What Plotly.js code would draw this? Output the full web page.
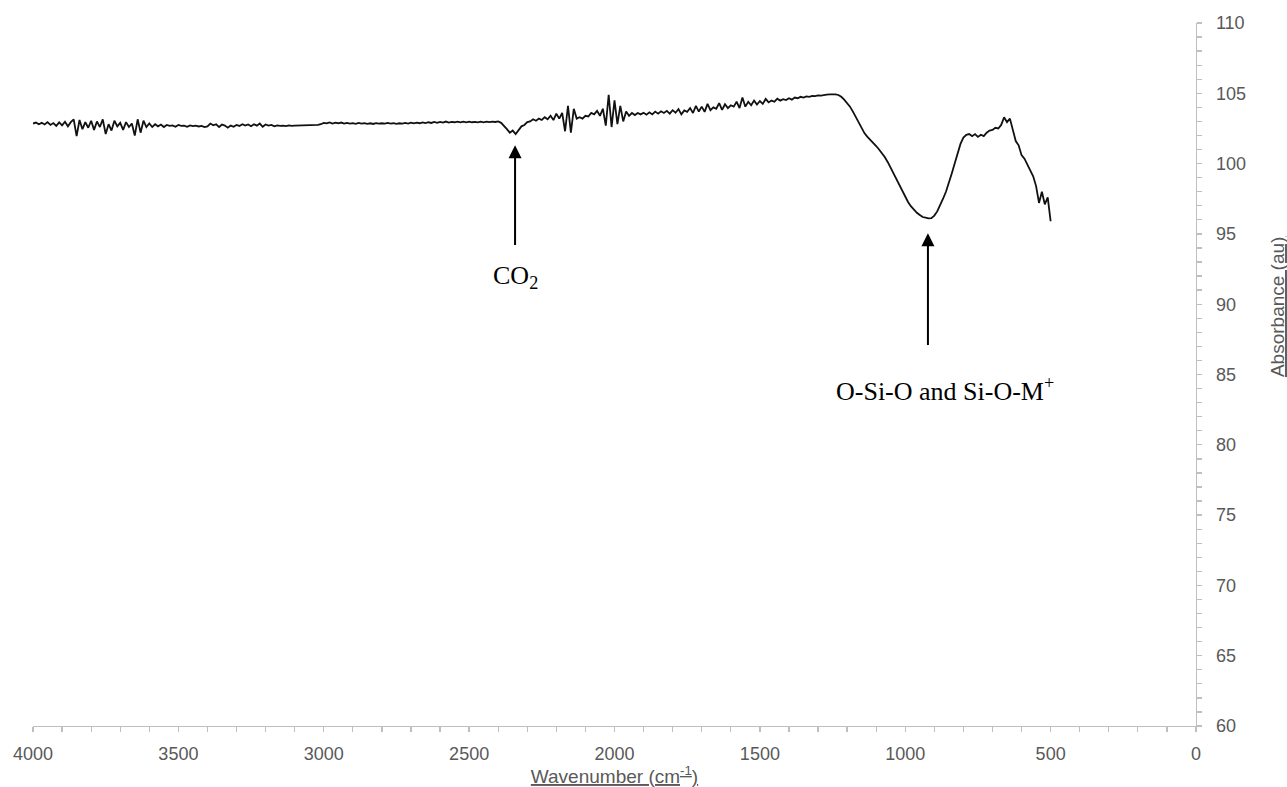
<!DOCTYPE html>
<html>
<head>
<meta charset="utf-8">
<script src="https://cdn.plot.ly/plotly-3.0.1.min.js"></script>
<style>
  html, body { margin: 0; padding: 0; background: #ffffff; }
  #chart { width: 1287px; height: 787px; }
</style>
</head>
<body>
<div id="chart"></div>
<script>
// FTIR spectrum: wavenumber (cm-1) and absorbance (au), sampled every 10 cm-1
const wavenumber = [
  4000,3990,3980,3970,3960,3950,3940,3930,3920,3910,
  3900,3890,3880,3870,3860,3850,3840,3830,3820,3810,
  3800,3790,3780,3770,3760,3750,3740,3730,3720,3710,
  3700,3690,3680,3670,3660,3650,3640,3630,3620,3610,
  3600,3590,3580,3570,3560,3550,3540,3530,3520,3510,
  3500,3490,3480,3470,3460,3450,3440,3430,3420,3410,
  3400,3390,3380,3370,3360,3350,3340,3330,3320,3310,
  3300,3290,3280,3270,3260,3250,3240,3230,3220,3210,
  3200,3190,3180,3170,3160,3150,3140,3130,3120,3110,
  3100,3090,3080,3070,3060,3050,3040,3030,3020,3010,
  3000,2990,2980,2970,2960,2950,2940,2930,2920,2910,
  2900,2890,2880,2870,2860,2850,2840,2830,2820,2810,
  2800,2790,2780,2770,2760,2750,2740,2730,2720,2710,
  2700,2690,2680,2670,2660,2650,2640,2630,2620,2610,
  2600,2590,2580,2570,2560,2550,2540,2530,2520,2510,
  2500,2490,2480,2470,2460,2450,2440,2430,2420,2410,
  2400,2390,2380,2370,2360,2350,2340,2330,2320,2310,
  2300,2290,2280,2270,2260,2250,2240,2230,2220,2210,
  2200,2190,2180,2170,2160,2150,2140,2130,2120,2110,
  2100,2090,2080,2070,2060,2050,2040,2030,2020,2010,
  2000,1990,1980,1970,1960,1950,1940,1930,1920,1910,
  1900,1890,1880,1870,1860,1850,1840,1830,1820,1810,
  1800,1790,1780,1770,1760,1750,1740,1730,1720,1710,
  1700,1690,1680,1670,1660,1650,1640,1630,1620,1610,
  1600,1590,1580,1570,1560,1550,1540,1530,1520,1510,
  1500,1490,1480,1470,1460,1450,1440,1430,1420,1410,
  1400,1390,1380,1370,1360,1350,1340,1330,1320,1310,
  1300,1290,1280,1270,1260,1250,1240,1230,1220,1210,
  1200,1190,1180,1170,1160,1150,1140,1130,1120,1110,
  1100,1090,1080,1070,1060,1050,1040,1030,1020,1010,
  1000,990,980,970,960,950,940,930,920,910,
  900,890,880,870,860,850,840,830,820,810,
  800,790,780,770,760,750,740,730,720,710,
  700,690,680,670,660,650,640,630,620,610,
  600,590,580,570,560,550,540,530,520,510,
  500
];

const absorbance = [
  102.85,102.92,102.8,102.9,102.78,102.95,102.75,102.88,102.68,102.93,
  102.72,102.98,102.65,102.95,103.15,101.95,103.1,102.45,102.95,102.55,
  103.05,102.4,103.0,102.6,103.15,102.1,102.8,102.35,103.05,102.65,
  102.9,102.4,102.95,102.6,102.85,102.0,103.15,102.2,103.05,102.6,
  102.85,102.6,102.8,102.65,102.78,102.6,102.75,102.68,102.72,102.62,
  102.75,102.68,102.7,102.62,102.72,102.66,102.7,102.64,102.68,102.6,
  102.65,102.85,102.72,102.8,102.6,102.78,102.7,102.55,102.7,102.62,
  102.75,102.68,102.8,102.7,102.78,102.66,102.8,102.7,102.85,102.62,
  102.78,102.7,102.75,102.65,102.72,102.68,102.7,102.66,102.72,102.68,
  102.7,102.7,102.72,102.7,102.74,102.7,102.73,102.72,102.75,102.8,
  102.9,102.86,102.93,102.85,102.91,102.87,102.92,102.84,102.89,102.85,
  102.88,102.83,102.89,102.85,102.88,102.83,102.87,102.82,102.88,102.84,
  102.87,102.84,102.89,102.85,102.88,102.83,102.87,102.85,102.89,102.84,
  102.91,102.86,102.91,102.87,102.93,102.88,102.94,102.89,102.96,102.9,
  102.97,102.92,102.99,102.92,102.97,102.94,102.99,102.93,102.98,102.94,
  102.99,102.94,102.97,102.93,102.99,102.94,102.98,102.95,102.99,102.96,
  103.0,102.9,102.7,102.45,102.2,102.35,102.1,102.4,102.65,102.75,
  102.95,103.0,103.15,103.05,103.2,103.1,103.3,103.15,103.4,103.1,
  103.55,103.2,103.6,102.3,104.1,102.2,103.9,103.2,103.3,103.2,
  103.4,103.35,103.6,103.5,103.75,103.4,103.9,102.7,104.9,102.6,
  104.5,102.8,104.1,103.0,103.7,103.4,103.6,103.45,103.6,103.5,
  103.62,103.48,103.65,103.5,103.7,103.55,103.72,103.6,103.75,103.55,
  103.8,103.62,103.88,103.5,103.78,103.68,103.95,103.6,104.1,103.7,
  104.05,103.68,104.25,103.8,104.0,103.9,104.3,103.82,104.22,103.95,
  104.15,104.05,104.4,103.95,104.7,104.05,104.4,104.15,104.48,104.2,
  104.45,104.25,104.6,104.35,104.48,104.4,104.62,104.48,104.58,104.52,
  104.65,104.55,104.7,104.65,104.75,104.7,104.78,104.75,104.82,104.8,
  104.85,104.83,104.88,104.9,104.92,104.93,104.93,104.88,104.75,104.55,
  104.3,104.05,103.7,103.3,102.85,102.45,102.15,101.9,101.7,101.5,
  101.25,101.0,100.75,100.45,100.1,99.7,99.25,98.8,98.4,98.0,
  97.6,97.25,96.95,96.7,96.5,96.35,96.2,96.15,96.1,96.12,
  96.3,96.6,97.0,97.5,98.0,98.6,99.3,100.0,100.75,101.4,
  101.85,102.05,102.1,101.95,102.1,101.9,102.05,101.95,102.2,102.35,
  102.4,102.55,102.5,102.75,103.3,102.95,103.2,102.4,101.6,101.3,
  100.6,100.35,99.95,99.6,99.1,98.4,97.2,98.0,97.1,97.6,
  95.9
];

// Band assignments: label text, vertical arrow (wavenumber, tip and tail absorbance), label centre
const bandLabels = ['CO<sub>2</sub>', 'O-Si-O and Si-O-M<sup>+</sup>'];
const bandArrowX = [2342, 922];
const bandTipY = [101.3, 95.05];
const bandTailY = [94.1, 87.0];
const bandTextX = [2340, 863];
const bandTextY = [91.9, 83.9];

const xTitle = 'Wavenumber (cm<sup>-1</sup>)';
const yTitle = 'Absorbance (au)';

const axisGrey = '#bfbfbf';
const labelGrey = '#595959';
const sansFont = 'Liberation Sans, Arial, sans-serif';
const serifFont = 'Liberation Serif, Times New Roman, serif';

const annotations = [];
bandLabels.forEach((label, i) => {
  annotations.push({
    x: bandArrowX[i], y: bandTipY[i], xref: 'x', yref: 'y',
    ax: bandArrowX[i], ay: bandTailY[i], axref: 'x', ayref: 'y',
    text: '', showarrow: true, arrowhead: 2, arrowsize: 1.3, arrowwidth: 2,
    arrowcolor: '#000000', standoff: 0, startstandoff: 0
  });
  annotations.push({
    x: bandTextX[i], y: bandTextY[i], xref: 'x', yref: 'y',
    text: label, showarrow: false, xanchor: 'center', yanchor: 'middle',
    font: { family: serifFont, size: 26, color: '#000000' }
  });
});
annotations.push({
  x: 1.0697, y: 0.596, xref: 'paper', yref: 'paper',
  text: yTitle, textangle: -90, showarrow: false,
  xanchor: 'center', yanchor: 'middle',
  font: { family: sansFont, size: 19, color: labelGrey, lineposition: 'under' }
});

const trace = {
  x: wavenumber,
  y: absorbance,
  type: 'scatter',
  mode: 'lines',
  line: { color: '#111111', width: 1.8 },
  hoverinfo: 'x+y'
};

const layout = {
  width: 1287,
  height: 787,
  margin: { l: 33, r: 91, t: 23, b: 61 },
  paper_bgcolor: '#ffffff',
  plot_bgcolor: '#ffffff',
  showlegend: false,
  xaxis: {
    range: [4000, 0],
    tick0: 0, dtick: 500,
    showgrid: false, zeroline: false,
    showline: true, linecolor: axisGrey, linewidth: 1.3,
    ticks: 'outside', ticklen: 5, tickwidth: 1.3, tickcolor: axisGrey,
    ticklabelstandoff: 6,
    tickfont: { family: sansFont, size: 18, color: labelGrey },
    minor: { dtick: 100, ticks: 'outside', ticklen: 5, tickwidth: 1.3, tickcolor: axisGrey, showgrid: false },
    title: { text: xTitle, standoff: 8, font: { family: sansFont, size: 19, color: labelGrey, lineposition: 'under' } }
  },
  yaxis: {
    side: 'right',
    range: [60, 110],
    tick0: 60, dtick: 5,
    showgrid: false, zeroline: false,
    showline: true, linecolor: axisGrey, linewidth: 1.3,
    ticks: 'outside', ticklen: 5, tickwidth: 1.3, tickcolor: axisGrey,
    ticklabelstandoff: 10,
    tickfont: { family: sansFont, size: 18, color: labelGrey },
    minor: { dtick: 1, ticks: 'outside', ticklen: 5, tickwidth: 1.3, tickcolor: axisGrey, showgrid: false }
  },
  annotations: annotations
};

Plotly.newPlot('chart', [trace], layout, { displayModeBar: false, staticPlot: true });
</script>
</body>
</html>
